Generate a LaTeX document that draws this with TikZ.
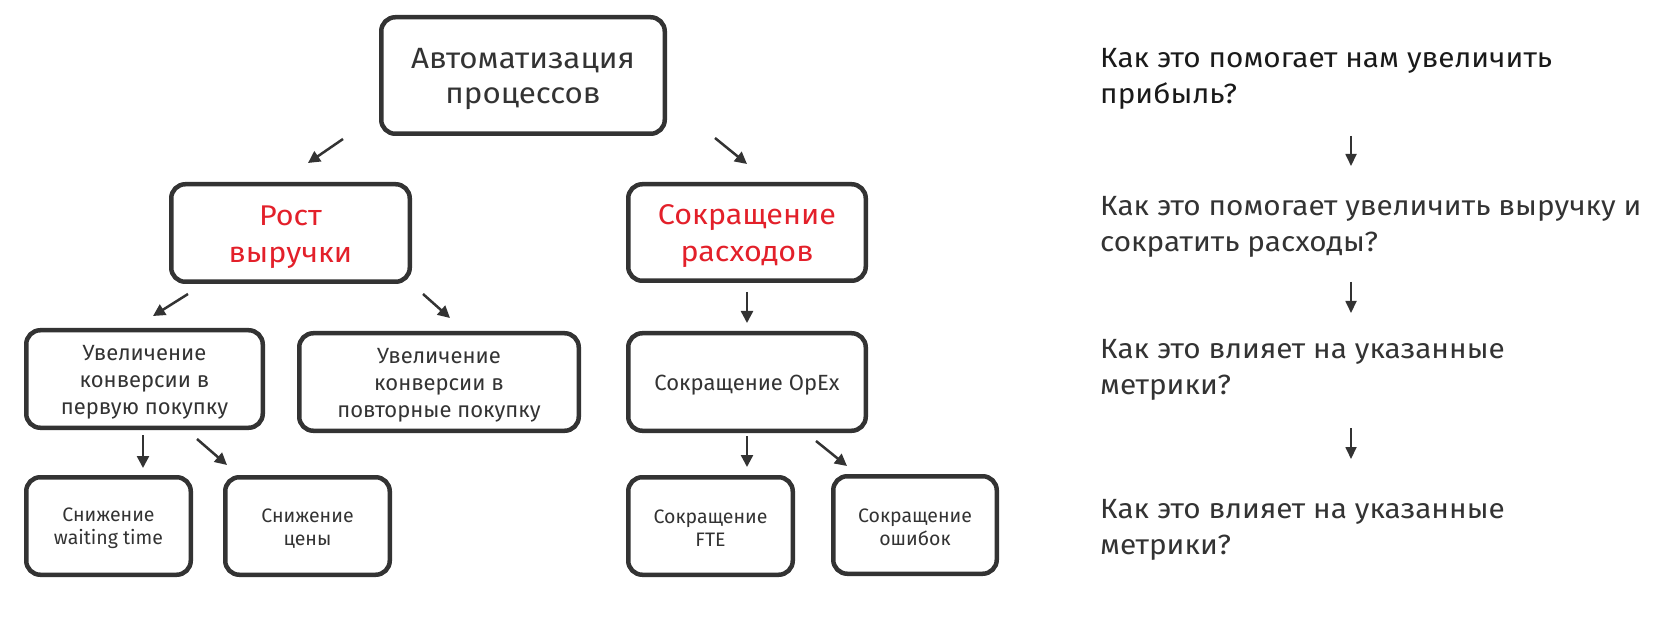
\documentclass[tikz,border=0pt]{standalone}
\usepackage{fontspec}
\setmainfont{Fira Sans}
\newfontfamily\widefont{Fira Sans}[FakeStretch=1.07]
\usetikzlibrary{arrows.meta}
\definecolor{ink}{HTML}{333333}
\definecolor{inkdark}{HTML}{1A1A1A}
\definecolor{redt}{HTML}{E3202A}
\begin{document}
\begin{tikzpicture}[x=1pt,y=-1pt,
  box/.style={draw=ink, line width=4.5pt, rounded corners=14pt, inner sep=0pt},
  btext/.style={inner sep=0pt, align=center, text=ink},
  bigf/.style={font=\widefont\fontsize{29.3}{35}\selectfont},
  redf/.style={font=\widefont\fontsize{28.5}{37}\selectfont, text=redt},
  midf/.style={font=\fontsize{22}{27}\selectfont},
  smallf/.style={font=\fontsize{19.5}{23}\selectfont},
  qtext/.style={anchor=north west, inner sep=0pt, align=left, text=ink, font=\widefont\fontsize{27.8}{36}\selectfont},
  arr/.style={draw=ink, line width=2.5pt, -{Triangle[length=12pt,width=12pt]}},
  qarr/.style={draw=ink, line width=1.8pt, -{Triangle[length=12pt,width=11pt]}}
]
\fill[white] (0,0) rectangle (1654,617);
\useasboundingbox (0,0) rectangle (1654,617);

% boxes
\node[box, minimum width=283.5pt, minimum height=116.5pt] (top) at (523,75.5) {};
\node[box, minimum width=238.5pt, minimum height=97.5pt] (rost) at (290.5,233) {};
\node[box, minimum width=237.5pt, minimum height=96.5pt] (sokr) at (747,232.5) {};
\node[box, minimum width=236.5pt, minimum height=97.5pt] (c1) at (144.5,379) {};
\node[box, minimum width=279.5pt, minimum height=97.5pt] (c2) at (439,382) {};
\node[box, minimum width=237.5pt, minimum height=97.5pt] (opex) at (747,382) {};
\node[box, minimum width=164.5pt, minimum height=97.5pt] (d1) at (108.5,526) {};
\node[box, minimum width=164.5pt, minimum height=97.5pt] (d2) at (307.5,526) {};
\node[box, minimum width=164.5pt, minimum height=97.5pt] (d3) at (710.5,526) {};
\node[box, minimum width=163.5pt, minimum height=97.5pt] (d4) at (915,525) {};

% box texts
\node[btext, bigf] (top-t) at ([yshift=-3.5pt]top.center) {Автоматизация\\процессов};
\node[btext, redf] (rost-t) at ([yshift=-4pt]rost.center) {Рост\\выручки};
\node[btext, redf] (sokr-t) at ([yshift=-4pt]sokr.center) {Сокращение\\расходов};
\node[btext, midf] (c1-t) at ([yshift=-3pt]c1.center) {Увеличение\\конверсии в\\первую покупку};
\node[btext, midf] (c2-t) at ([yshift=-3pt]c2.center) {Увеличение\\конверсии в\\повторные покупку};
\node[btext, midf] (opex-t) at ([yshift=-3pt]opex.center) {Сокращение OpEx};
\node[btext, smallf] (d1-t) at ([yshift=-2.5pt]d1.center) {Снижение\\waiting time};
\node[btext, smallf] (d2-t) at ([yshift=-2.5pt]d2.center) {Снижение\\цены};
\node[btext, smallf] (d3-t) at ([yshift=-2.5pt]d3.center) {Сокращение\\FTE};
\node[btext, smallf] (d4-t) at ([yshift=-2.5pt]d4.center) {Сокращение\\ошибок};

% arrow end points
\coordinate (a1s) at (343,139); \coordinate (a1e) at (308,163);
\coordinate (a2s) at (715,138); \coordinate (a2e) at (747,164);
\coordinate (a3s) at (188,294); \coordinate (a3e) at (153,316);
\coordinate (a4s) at (423,294); \coordinate (a4e) at (450,318);
\coordinate (a5s) at (747,292); \coordinate (a5e) at (747,323);
\coordinate (a6s) at (143,435); \coordinate (a6e) at (143,468);
\coordinate (a7s) at (197,439); \coordinate (a7e) at (227,465);
\coordinate (a8s) at (747,436); \coordinate (a8e) at (747,467);
\coordinate (a9s) at (816,441); \coordinate (a9e) at (847,466);

\draw[arr] (a1s) -- (a1e);
\draw[arr] (a2s) -- (a2e);
\draw[arr] (a3s) -- (a3e);
\draw[arr] (a4s) -- (a4e);
\draw[arr] (a5s) -- (a5e);
\draw[arr] (a6s) -- (a6e);
\draw[arr] (a7s) -- (a7e);
\draw[arr] (a8s) -- (a8e);
\draw[arr] (a9s) -- (a9e);

% right column
\node[qtext, text=inkdark] (q1) at (1100,47.85) {Как это помогает нам увеличить\\прибыль?};
\node[qtext] (q2) at (1100,195.85) {Как это помогает увеличить выручку и\\сократить расходы?};
\node[qtext] (q3) at (1100,338.85) {Как это влияет на указанные\\метрики?};
\node[qtext] (q4) at (1100,498.85) {Как это влияет на указанные\\метрики?};

\coordinate (b1s) at (1351,136); \coordinate (b1e) at (1351,166);
\coordinate (b2s) at (1351,282); \coordinate (b2e) at (1351,313);
\coordinate (b3s) at (1351,428); \coordinate (b3e) at (1351,459);
\draw[qarr] (b1s) -- (b1e);
\draw[qarr] (b2s) -- (b2e);
\draw[qarr] (b3s) -- (b3e);
\end{tikzpicture}
\end{document}
